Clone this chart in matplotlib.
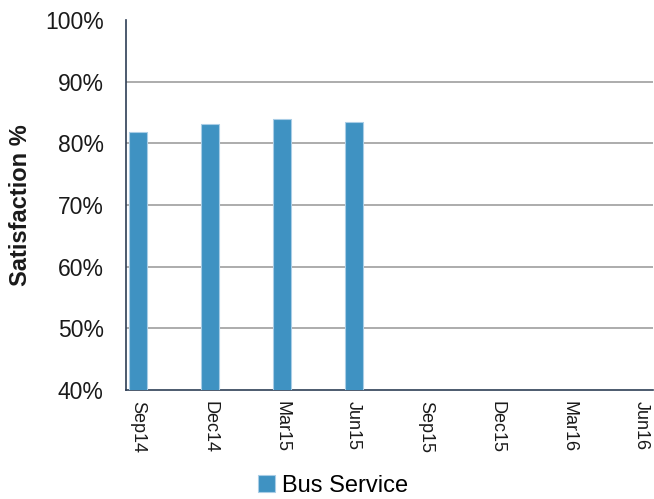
import matplotlib
matplotlib.use("Agg")
import matplotlib.pyplot as plt
from matplotlib.ticker import PercentFormatter

plt.rcParams['font.family'] = ['Liberation Sans', 'DejaVu Sans']

categories = ["Sep14", "Dec14", "Mar15", "Jun15", "Sep15", "Dec15", "Mar16", "Jun16"]
bus_service = [81.8, 83.2, 83.9, 83.5, None, None, None, None]
series_name = "Bus Service"

fig = plt.figure(figsize=(6.54, 4.99), dpi=100)
ax = fig.add_axes([0.1927, 0.2184, 0.806, 0.7416])

xs = [i for i, v in enumerate(bus_service) if v is not None]
vals = [v for v in bus_service if v is not None]
bars = ax.bar(xs, vals, width=0.25, color="#3F92C2", edgecolor="#A9CDE6", linewidth=0.8,
              label=series_name, zorder=3)

ax.set_ylim(40, 100)
ax.set_xlim(-0.167, 7.17)
ax.set_yticks(range(40, 101, 10))
ax.yaxis.set_major_formatter(PercentFormatter(decimals=0))
ax.set_xticks(range(len(categories)))
ax.set_xticklabels(categories, rotation=-90, fontsize=13, color="#1a1a1a")
ax.tick_params(axis='y', labelsize=16.5, colors="#1a1a1a", length=0, pad=16)
ax.tick_params(axis='x', length=0, pad=8)

for y in range(50, 100, 10):
    ax.axhline(y, color="#A6A6A6", linewidth=1.3, zorder=1)

for s in ['top', 'right']:
    ax.spines[s].set_visible(False)
for s in ['left', 'bottom']:
    ax.spines[s].set_color("#2E3E55")
    ax.spines[s].set_linewidth(1.2)

ax.set_ylabel("Satisfaction %", fontsize=17, fontweight='bold', color="#1a1a1a")
ax.yaxis.set_label_coords(-0.178, 0.5)

fig.legend(handles=[bars], labels=[series_name], loc='center', bbox_to_anchor=(0.509, 0.026),
           frameon=False, fontsize=17, handlelength=0.7, handleheight=0.7, handletextpad=0.3)

fig.savefig("out.png", dpi=100)
